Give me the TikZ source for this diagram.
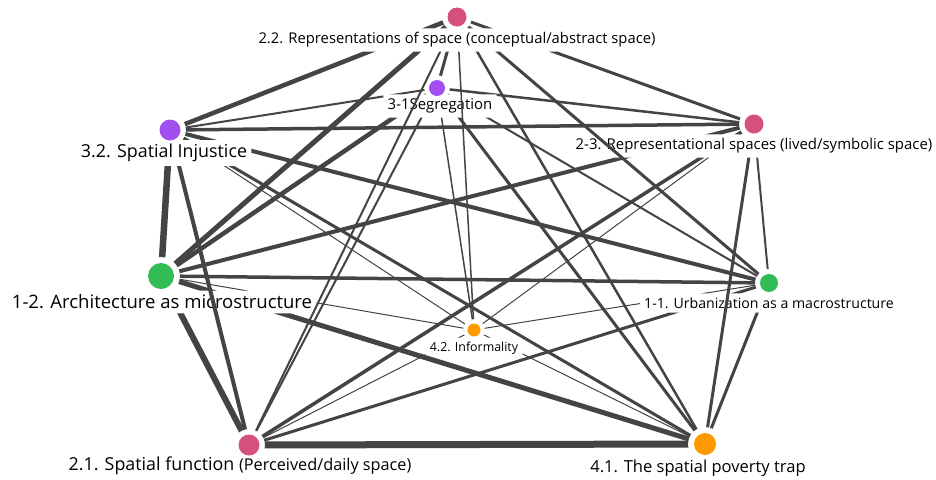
\documentclass[tikz,border=0pt]{standalone}
\usepackage{fontspec}
\setmainfont{Open Sans}
\definecolor{pk}{HTML}{D6507E}
\definecolor{pu}{HTML}{A24FF0}
\definecolor{gr}{HTML}{33BB55}
\definecolor{og}{HTML}{FF9900}
\definecolor{eg}{HTML}{444444}
\newcommand\fs[1]{\fontsize{#1}{#1}\selectfont}
% hole radii (px) around each dot
\def\hrA{15}\def\hrS{13}\def\hrB{15}\def\hrJ{16}\def\hrM{19}
\def\hrU{14}\def\hrI{11}\def\hrF{16}\def\hrP{17}
\newcommand\lnk[3]{%
 \begin{scope}[even odd rule]
 \clip (0,0) rectangle (936,479) (#1l.south west) rectangle (#1l.north east);
 \clip (0,0) rectangle (936,479) (#1.center) circle[radius=\csname hr#1\endcsname];
 \clip (0,0) rectangle (936,479) (#2l.south west) rectangle (#2l.north east);
 \clip (0,0) rectangle (936,479) (#2.center) circle[radius=\csname hr#2\endcsname];
 \draw[link=#3] (#1) -- (#2);
 \end{scope}}
\begin{document}
\begin{tikzpicture}[x=0.75pt,y=-0.75pt,
 vdot/.style={circle,draw=none,inner sep=0pt,minimum size=#1*1.5pt},
 lbl/.style={inner sep=3pt,text=black,font=\fs{#1}},
 link/.style={draw=eg,line width=#1*0.75pt}]
\useasboundingbox[fill=white] (0,0) rectangle (936,479);
% dots
\node[vdot=9.5,fill=pk] (A) at (457,17) {};
\node[vdot=8,fill=pu] (S) at (437,88) {};
\node[vdot=9.5,fill=pk] (B) at (754,124) {};
\node[vdot=10.5,fill=pu] (J) at (170,130) {};
\node[vdot=13,fill=gr] (M) at (161,276) {};
\node[vdot=9,fill=gr] (U) at (769,283) {};
\node[vdot=6.5,fill=og] (I) at (474,330) {};
\node[vdot=10.5,fill=pk] (F) at (249,445) {};
\node[vdot=11,fill=og] (P) at (705,444) {};
% labels
\node[lbl=11.1] (Al) at (457,40) {2.2. Representations of space (conceptual/abstract space)};
\node[lbl=11.2] (Sl) at (440,106) {3-1Segregation};
\node[lbl=11.2] (Bl) at (754,146) {2-3. Representational spaces (lived/symbolic space)};
\node[lbl=13.4] (Jl) at (164,153) {3.2. Spatial Injustice};
\node[lbl=13.9] (Ml) at (162,302) {1-2. Architecture as microstructure};
\node[lbl=10.6] (Ul) at (769,303) {1-1. Urbanization as a macrostructure};
\node[lbl=9.3] (Il) at (474,348) {4.2. Informality};
\node[lbl=13.4] (Fl) at (240,466) {2.1. Spatial function {\fs{12.2}(Perceived/daily space)}};
\node[lbl=12.4] (Pl) at (698,468) {4.1. The spatial poverty trap};
% connectors
\lnk{A}{J}{4.5}
\lnk{A}{M}{5}
\lnk{A}{S}{3}
\lnk{A}{F}{2}
\lnk{A}{I}{1.5}
\lnk{A}{P}{2.5}
\lnk{A}{U}{3}
\lnk{A}{B}{3}
\lnk{S}{J}{2}
\lnk{S}{B}{2.5}
\lnk{S}{M}{4.5}
\lnk{S}{F}{2}
\lnk{S}{I}{1.5}
\lnk{S}{P}{3}
\lnk{S}{U}{2}
\lnk{J}{B}{3.5}
\lnk{J}{M}{6.5}
\lnk{J}{F}{4}
\lnk{J}{P}{3}
\lnk{J}{U}{4}
\lnk{J}{I}{1}
\lnk{M}{B}{4}
\lnk{M}{U}{3.5}
\lnk{M}{I}{1}
\lnk{M}{F}{6}
\lnk{M}{P}{5}
\lnk{B}{F}{3.5}
\lnk{B}{I}{1}
\lnk{B}{U}{2}
\lnk{B}{P}{3}
\lnk{U}{F}{3}
\lnk{U}{I}{1}
\lnk{U}{P}{3}
\lnk{F}{I}{1}
\lnk{F}{P}{7}
\lnk{I}{P}{1}
\end{tikzpicture}
\end{document}
